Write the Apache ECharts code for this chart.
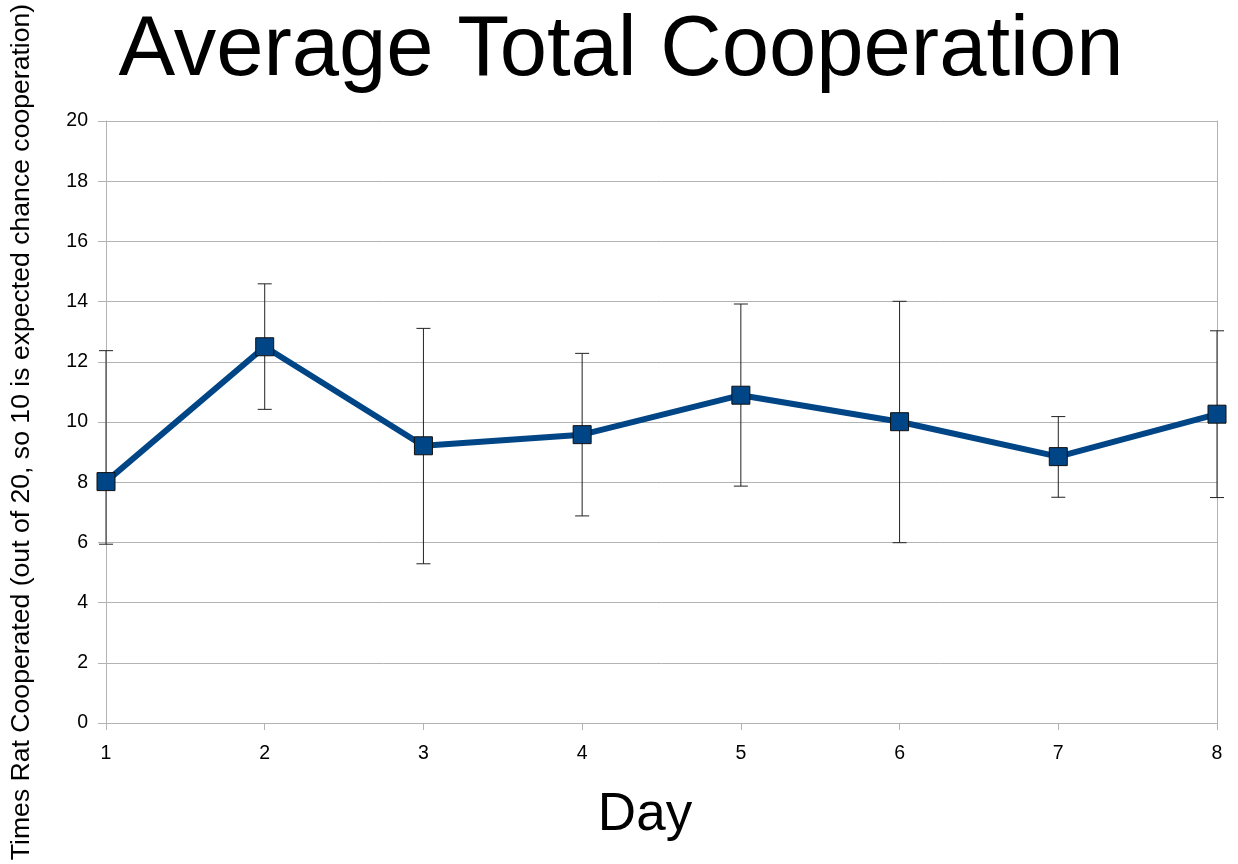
<!DOCTYPE html>
<html>
<head>
<meta charset="utf-8">
<script src="https://cdn.jsdelivr.net/npm/echarts@6/dist/echarts.min.js"></script>
<style>html,body{margin:0;padding:0;background:#fff;}#c{width:1238px;height:864px;}</style>
</head>
<body>
<div id="c"></div>
<script>
const days = ['1', '2', '3', '4', '5', '6', '7', '8'];
const means = [8.02, 12.5, 9.21, 9.58, 10.89, 10.01, 8.85, 10.26];
const upper = [12.37, 14.59, 13.11, 12.28, 13.92, 14.01, 10.18, 13.03];
const lower = [5.94, 10.42, 5.29, 6.88, 7.87, 5.99, 7.50, 7.49];
const yTicks = [0, 2, 4, 6, 8, 10, 12, 14, 16, 18, 20];

const FONT = "'Liberation Sans', Arial, sans-serif";
const chart = echarts.init(document.getElementById('c'));
const errData = days.map((d, i) => [i, lower[i], upper[i]]);

chart.setOption({
  animation: false,
  backgroundColor: '#fff',
  title: {
    text: 'Average Total Cooperation',
    left: 616, top: 4, textAlign: 'center',
    textStyle: { fontFamily: FONT, fontSize: 85, fontWeight: 'normal', color: '#000' }
  },
  grid: { left: 106, right: 21, top: 121, bottom: 141, containLabel: false },
  xAxis: {
    type: 'category', data: days, boundaryGap: false,
    axisLine: { show: true, lineStyle: { color: '#b3b3b3', width: 1 } },
    axisTick: { show: true, length: 7, lineStyle: { color: '#b3b3b3' } },
    axisLabel: { fontFamily: FONT, fontSize: 19.5, color: '#000', margin: 21 },
    splitLine: { show: false }
  },
  yAxis: [{
    type: 'value', min: 0, max: 20, interval: 2,
    axisLine: { show: true, lineStyle: { color: '#b3b3b3', width: 1 } },
    axisTick: { show: true, length: 8, lineStyle: { color: '#b3b3b3' } },
    axisLabel: { fontFamily: FONT, fontSize: 19.5, color: '#000', margin: 18,
      formatter: v => yTicks.includes(v) ? String(v) : '' },
    splitLine: { show: true, lineStyle: { color: '#b3b3b3', width: 1 } }
  }, {
    type: 'value', min: 0, max: 20, interval: 2, position: 'right',
    axisLine: { show: true, lineStyle: { color: '#b3b3b3', width: 1 } },
    axisTick: { show: false }, axisLabel: { show: false }, splitLine: { show: false }
  }],
  graphic: [
    { type: 'text', x: 22, y: 432, rotation: Math.PI / 2,
      style: { text: 'Times Rat Cooperated (out of 20, so 10 is expected chance cooperation)',
        fontFamily: FONT, fontSize: 26.6, fill: '#000', align: 'center', verticalAlign: 'middle' } },
    { type: 'text', x: 645, y: 815,
      style: { text: 'Day', fontFamily: FONT, fontSize: 53, fill: '#000', align: 'center', verticalAlign: 'middle' } }
  ],
  series: [{
    type: 'custom', z: 1,
    data: errData,
    renderItem: function (params, api) {
      const x = api.value(0);
      const lo = api.coord([x, api.value(1)]);
      const hi = api.coord([x, api.value(2)]);
      const hw = 7;
      const st = { stroke: '#222', lineWidth: 1 };
      return { type: 'group', children: [
        { type: 'line', shape: { x1: lo[0], y1: lo[1], x2: hi[0], y2: hi[1] }, style: st },
        { type: 'line', shape: { x1: hi[0] - hw, y1: hi[1], x2: hi[0] + hw, y2: hi[1] }, style: st },
        { type: 'line', shape: { x1: lo[0] - hw, y1: lo[1], x2: lo[0] + hw, y2: lo[1] }, style: st }
      ]};
    }
  }, {
    type: 'line', z: 3, data: means,
    symbol: 'rect', symbolSize: 18,
    lineStyle: { color: '#004586', width: 6 },
    itemStyle: { color: '#004586', borderColor: '#111', borderWidth: 1 }
  }]
});
</script>
</body>
</html>
